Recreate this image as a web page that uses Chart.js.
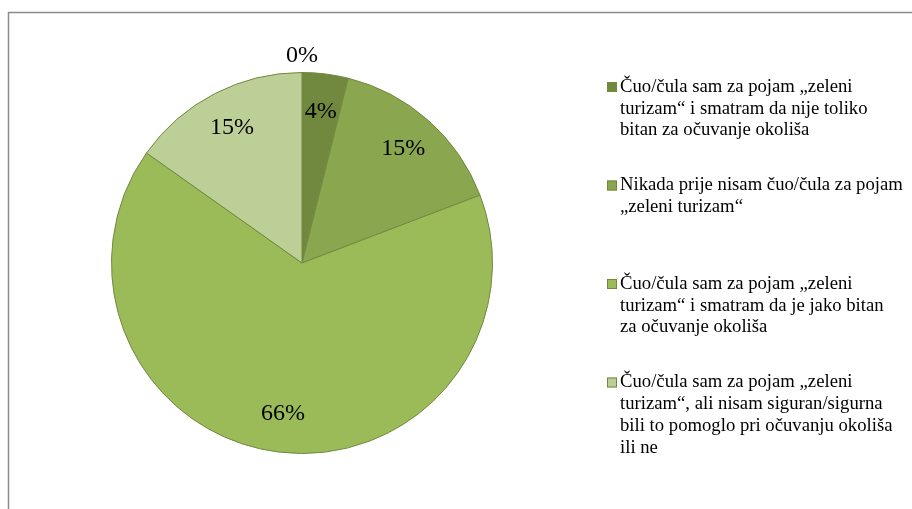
<!DOCTYPE html>
<html>
<head>
<meta charset="utf-8">
<script src="https://cdn.jsdelivr.net/npm/chart.js@4/dist/chart.umd.min.js"></script>
<style>
  html, body { margin: 0; padding: 0; background: #fff; }
  #wrap { width: 912px; height: 509px; }
</style>
</head>
<body>
<div id="wrap"><canvas id="pie"></canvas></div>
<script>
// categories (legend text, wrapped like the picture)
const categories = [
    ['Čuo/čula sam za pojam „zeleni', 'turizam“ i smatram da nije toliko', 'bitan za očuvanje okoliša'],
    ['Nikada prije nisam čuo/čula za pojam', '„zeleni turizam“'],
    ['Čuo/čula sam za pojam „zeleni', 'turizam“ i smatram da je jako bitan', 'za očuvanje okoliša'],
    ['Čuo/čula sam za pojam „zeleni', 'turizam“, ali nisam siguran/sigurna', 'bili to pomoglo pri očuvanju okoliša', 'ili ne'],
    null
];
// share of answers in percent
const shares = [3.9, 15.3, 65.6, 15.2, 0];
const sliceColors = ['#71893F', '#8AA64F', '#9BBB59', '#BBCF97', '#D7E4BD'];

const serif = '"Liberation Serif", "Times New Roman", serif';

// frame round the chart area, like the copied office chart
const framePlugin = {
    id: 'frame',
    beforeDraw(chart) {
        const c = chart.ctx;
        c.save();
        c.strokeStyle = '#8c8c8c';
        c.lineWidth = 1.5;
        c.beginPath();
        c.moveTo(8.5, chart.height);
        c.lineTo(8.5, 12.5);
        c.lineTo(chart.width, 12.5);
        c.stroke();
        c.restore();
    }
};

// percentage labels on the slices
const pctPlugin = {
    id: 'pct',
    afterDatasetsDraw(chart) {
        const c = chart.ctx;
        const meta = chart.getDatasetMeta(0);
        c.save();
        c.font = '24px ' + serif;
        c.fillStyle = '#000';
        c.textAlign = 'center';
        c.textBaseline = 'middle';
        meta.data.forEach((arc, i) => {
            const p = arc.getProps(['x', 'y', 'startAngle', 'endAngle', 'outerRadius']);
            const mid = (p.startAngle + p.endAngle) / 2;
            const r = shares[i] == 0 ? p.outerRadius + 17 : p.outerRadius * 0.8;
            c.fillText(Math.round(shares[i]) + '%', p.x + Math.cos(mid) * r, p.y + Math.sin(mid) * r);
        });
        c.restore();
    }
};

// legend on the right, with wrapped lines
const legendPlugin = {
    id: 'sideLegend',
    afterDraw(chart) {
        const c = chart.ctx;
        const x = 607, step = 98.5, lh = 21.7;
        let y = 87;
        c.save();
        c.font = '18.7px ' + serif;
        c.textBaseline = 'middle';
        categories.forEach((lines, i) => {
            if (!lines) return;
            c.fillStyle = sliceColors[i];
            c.fillRect(x, y - 5, 10, 10);
            c.strokeStyle = '#71893F';
            c.lineWidth = 1;
            c.strokeRect(x + 0.5, y - 4.5, 9, 9);
            c.fillStyle = '#000';
            lines.forEach((t, k) => c.fillText(t, x + 13, y + k * lh));
            y += step;
        });
        c.restore();
    }
};

new Chart(document.getElementById('pie'), {
    type: 'pie',
    data: {
        labels: categories.map(l => l ? l.join(' ') : ''),
        datasets: [{
            data: shares,
            backgroundColor: sliceColors,
            borderColor: '#71893F',
            borderWidth: 1
        }]
    },
    options: {
        responsive: true,
        maintainAspectRatio: false,
        animation: false,
        layout: { padding: { left: 111, right: 419, top: 72, bottom: 55 } },
        plugins: {
            legend: { display: false },
            tooltip: { enabled: false }
        }
    },
    plugins: [framePlugin, pctPlugin, legendPlugin]
});
</script>
</body>
</html>
